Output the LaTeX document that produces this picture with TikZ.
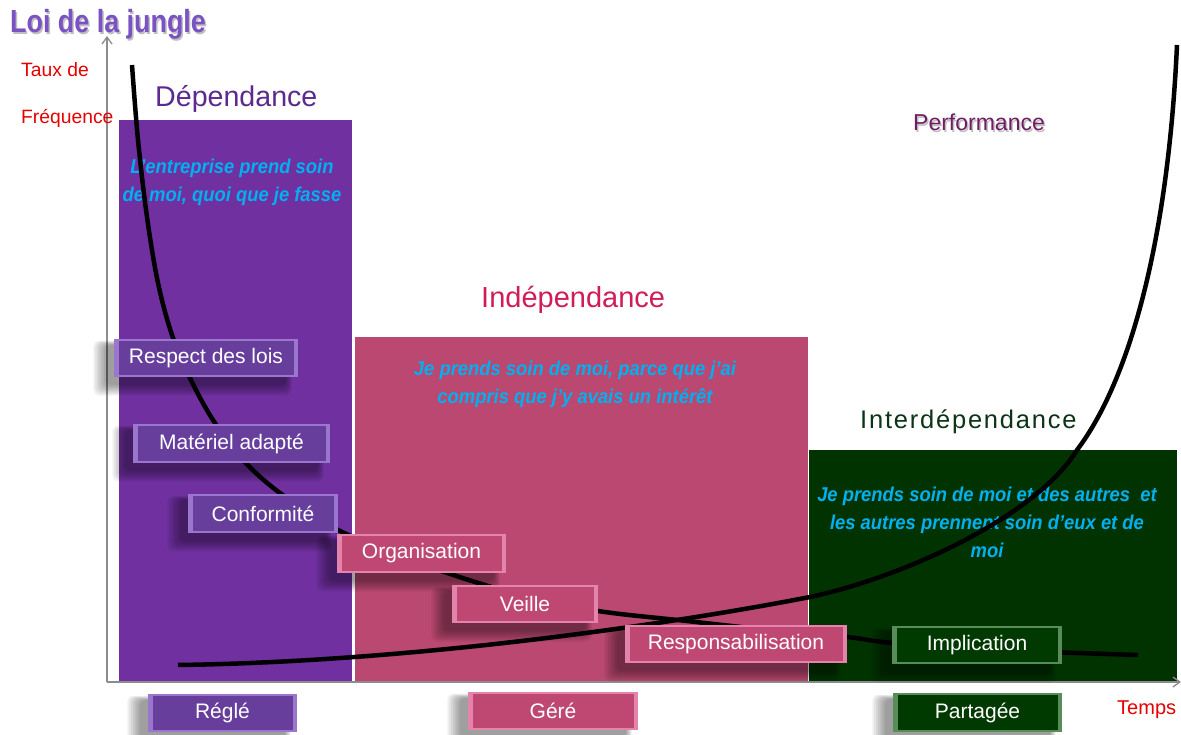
\documentclass[tikz,border=0pt]{standalone}
\usepackage{fontspec}
\setmainfont{Liberation Sans}
\usepackage{graphicx}
\usetikzlibrary{arrows.meta}
\definecolor{purpleRect}{RGB}{112,48,160}
\definecolor{purpleBtn}{RGB}{104,62,156}
\definecolor{purpleLight}{RGB}{155,118,205}
\definecolor{pinkRect}{RGB}{186,72,112}
\definecolor{pinkBtn}{RGB}{190,72,114}
\definecolor{pinkLight}{RGB}{228,132,172}
\definecolor{greenRect}{RGB}{0,51,0}
\definecolor{greenBtn}{RGB}{0,58,0}
\definecolor{greenLight}{RGB}{88,140,88}
\definecolor{cyanText}{RGB}{0,176,240}
\definecolor{redText}{RGB}{230,0,0}
\definecolor{titlePurple}{RGB}{122,82,196}
\definecolor{depPurple}{RGB}{92,42,142}
\definecolor{indPink}{RGB}{208,28,88}
\definecolor{intGreen}{RGB}{12,52,22}
\definecolor{perfPurple}{RGB}{112,30,100}
\definecolor{axisGray}{RGB}{140,140,140}
\newcommand\sq[1]{\scalebox{0.92}[1]{#1}}
\newcommand\btnshadow[4]{%
  \foreach \k in {0,...,7}{%
    \fill[black,opacity=0.055,rounded corners=6pt]
      ({#1-8-1.8*\k},{#2+6-0.6*\k}) rectangle ({#3-12+0.8*\k},{#4+8+1.5*\k});}}
\tikzset{
  btn/.style 2 args={fill=#2, draw=none, text=white, inner sep=0pt,
    font=\fontsize{21}{24}\selectfont,
    path picture={\fill[#1] ([shift={(4.5pt,-2pt)}]path picture bounding box.north west)
      rectangle ([shift={(-4.5pt,2pt)}]path picture bounding box.south east);}},
  pbtn/.style={btn={purpleBtn}{purpleLight}},
  kbtn/.style={btn={pinkBtn}{pinkLight}},
  gbtn/.style={btn={greenBtn}{greenLight}},
  curve/.style={line width=4.5pt, black},
  axis/.style={axisGray, line width=1.3pt, -{Straight Barb[length=7pt,width=10pt]}},
  note/.style={text=cyanText, align=center, font=\fontsize{20}{28}\selectfont\bfseries\itshape, inner sep=0pt},
  heading/.style={anchor=base west, inner sep=0pt},
  axislabel/.style={anchor=base west, inner sep=0pt, text=redText, font=\fontsize{19.3}{21}\selectfont},
}
\begin{document}
\begin{tikzpicture}[x=1pt,y=-1pt]
\useasboundingbox (0,0) rectangle (1181,735);
\fill[white] (0,0) rectangle (1181,735);
% zones
\fill[purpleRect] (119,120) rectangle (352,681);
\fill[pinkRect] (355,337) rectangle (808,681);
\fill[greenRect] (809,450) rectangle (1177,681);
% axes
\coordinate (origin) at (107,682);
\coordinate (ytop) at (107,36);
\coordinate (xend) at (1181,682);
\draw[axis] (origin) -- (ytop);
\draw[axis] (origin) -- (xend);
% title
\node[heading, text=gray, opacity=0.5, font=\fontsize{32}{36}\selectfont\bfseries] at (11.5,34.5) {\scalebox{0.84}[1]{Loi de la jungle}};
\node[heading, text=titlePurple, font=\fontsize{32}{36}\selectfont\bfseries] (title) at (10,33) {\scalebox{0.84}[1]{Loi de la jungle}};
% axis labels
\node[axislabel] (taux) at (21,77) {Taux de};
\node[axislabel] (freq) at (21,124) {Fréquence};
\node[axislabel, font=\fontsize{20}{22}\selectfont] (temps) at (1117,714) {Temps};
% headings
\node[heading, font=\fontsize{28.6}{30}\selectfont, text=depPurple] (dep) at (155,107) {Dépendance};
\node[heading, font=\fontsize{29}{30}\selectfont, text=indPink] (ind) at (481,308) {Indépendance};
\node[heading, font=\fontsize{25.5}{30}\selectfont\addfontfeature{LetterSpace=7}, text=intGreen] (inter) at (860,428) {Interdépendance};
\node[heading, font=\fontsize{23}{26}\selectfont, text=gray, opacity=0.5] at (914.5,132.5) {Performance};
\node[heading, font=\fontsize{23}{26}\selectfont, text=perfPurple] (perf) at (913,131) {Performance};
% notes
\node[note] (n1) at (232,182) {\sq{L’entreprise prend soin}\\\sq{de moi, quoi que je fasse}};
\node[note] (n2) at (575,384) {\sq{Je prends soin de moi, parce que j’ai}\\\sq{compris que j’y avais un intérêt}};
\node[note] (n3) at (987,522) {\sq{Je prends soin de moi et des autres~ et}\\\sq{les autres prennent soin d’eux et de}\\\sq{moi}};
% curves
\coordinate (d0) at (132,65);
\coordinate (d9) at (1138,655);
\draw[curve] plot[smooth, tension=0.55] coordinates {(d0) (138,140) (147,217) (158,283) (172,335) (190,378) (213,420) (243,460) (280,493) (340,531) (433,568) (520,595) (598,611) (687,621) (760,629) (847,637) (893,643) (1000,650) (d9)};
\coordinate (i0) at (178,665);
\coordinate (i1) at (810,597);
\coordinate (i2) at (1077,450);
\coordinate (i3) at (1177,45);
\draw[curve] (i0) .. controls (400,662) and (650,628) .. (i1)
  .. controls (900,578) and (1035,518) .. (i2)
  .. controls (1130,380) and (1168,240) .. (i3);
% buttons
\btnshadow{114}{339}{298}{377}
\node[pbtn, minimum width=184pt, minimum height=38pt] (respect) at (206,358) {Respect des lois};
\btnshadow{133}{424}{330}{463}
\node[pbtn, minimum width=197pt, minimum height=39pt] (materiel) at (231.5,443.5) {Matériel adapté};
\btnshadow{188}{494}{338}{533}
\node[pbtn, minimum width=150pt, minimum height=39pt] (conformite) at (263,513.5) {Conformité};
\btnshadow{337}{534}{506}{573}
\node[kbtn, minimum width=169pt, minimum height=39pt] (organisation) at (421.5,553.5) {Organisation};
\btnshadow{452}{585}{598}{623}
\node[kbtn, minimum width=146pt, minimum height=38pt] (veille) at (525,604) {Veille};
\btnshadow{625}{625}{847}{663}
\node[kbtn, minimum width=222pt, minimum height=38pt] (respons) at (736,644) {Responsabilisation};
\btnshadow{892}{626}{1062}{664}
\node[gbtn, minimum width=170pt, minimum height=38pt] (implication) at (977,645) {Implication};
\btnshadow{148}{694}{297}{732}
\node[pbtn, minimum width=149pt, minimum height=38pt] (regle) at (222.5,713) {Réglé};
\btnshadow{468}{692}{638}{730}
\node[kbtn, minimum width=170pt, minimum height=38pt] (gere) at (553,711) {Géré};
\btnshadow{893}{693}{1062}{732}
\node[gbtn, minimum width=169pt, minimum height=39pt] (partagee) at (977.5,712.5) {Partagée};
\end{tikzpicture}
\end{document}
